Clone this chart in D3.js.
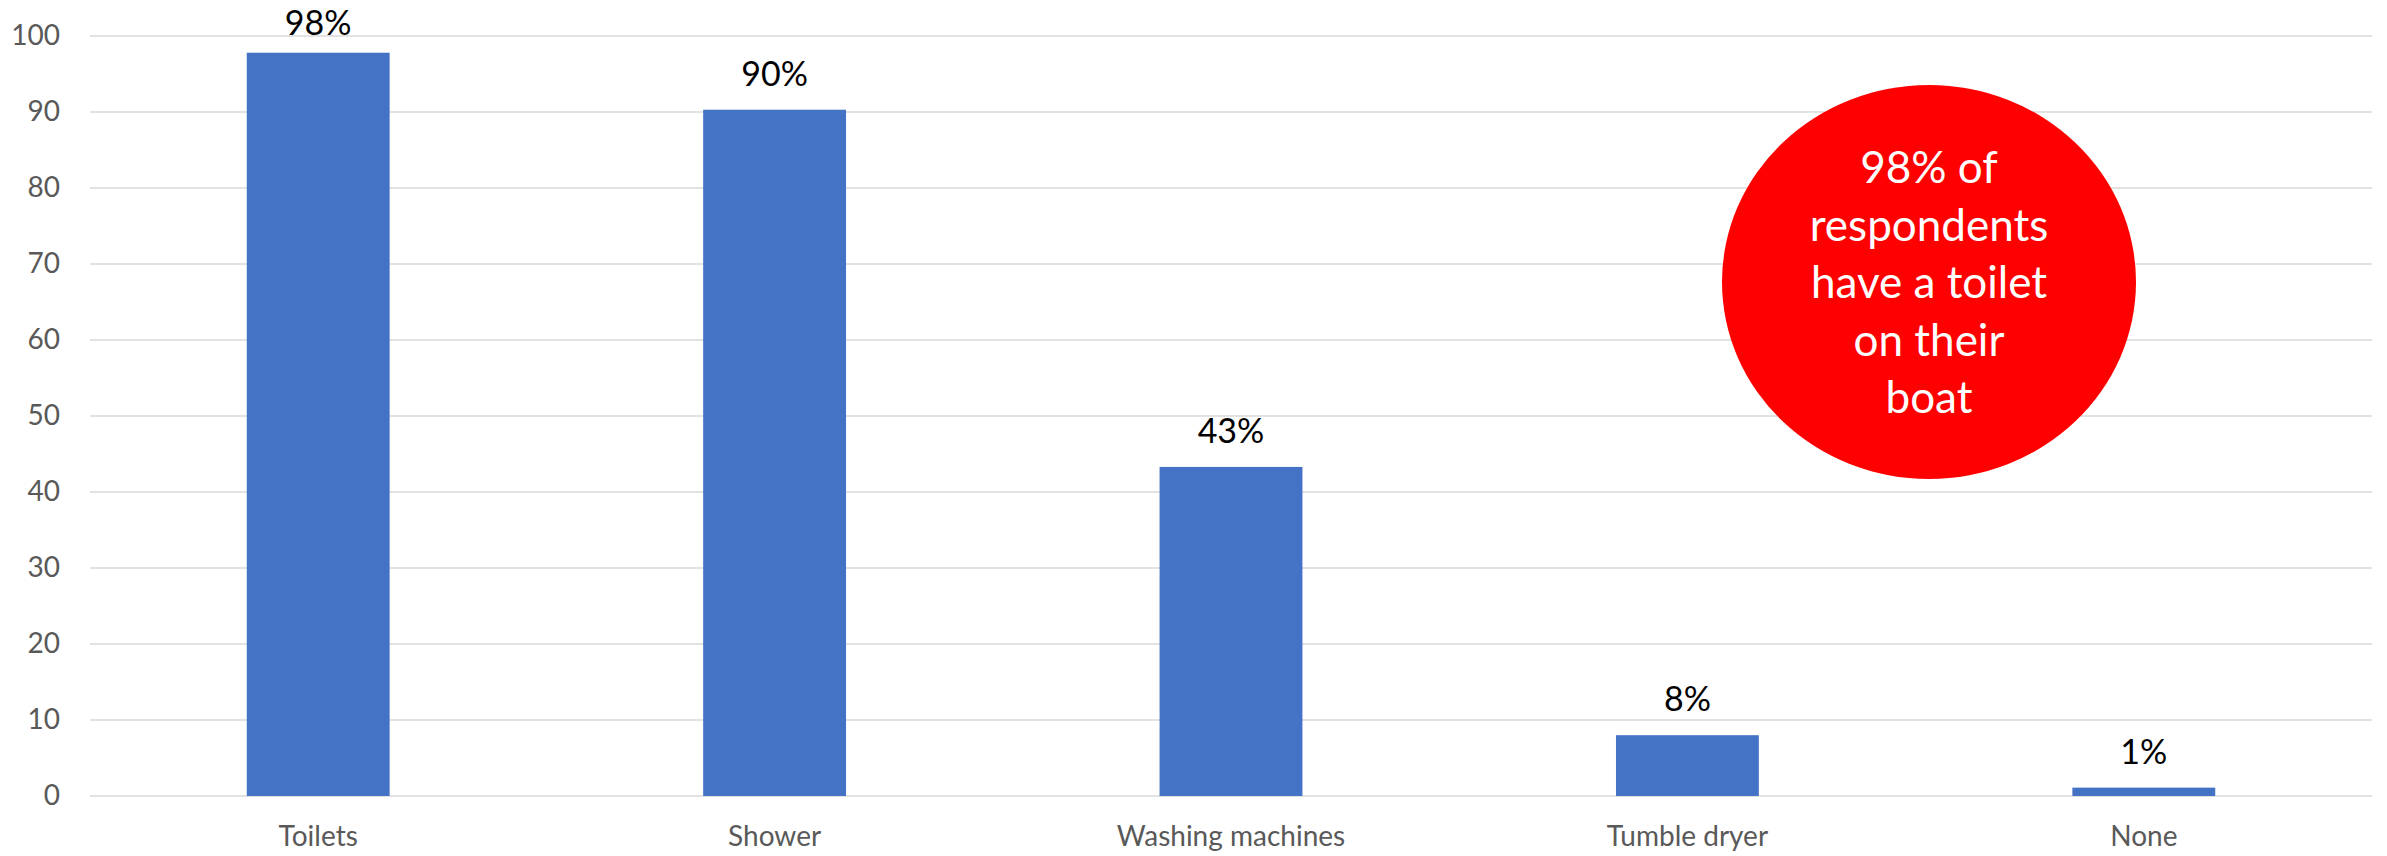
<!DOCTYPE html>
<html>
<head>
<meta charset="utf-8">
<script src="https://cdn.jsdelivr.net/npm/d3@7"></script>
<style>
  html, body { margin: 0; padding: 0; background: #ffffff; }
  svg { display: block; }
</style>
</head>
<body>
<svg id="chart" width="2387" height="856"></svg>
<script>
const categories = ["Toilets", "Shower", "Washing machines", "Tumble dryer", "None"];
const values = [97.8, 90.3, 43.3, 8.0, 1.1];
const yTicks = [0, 10, 20, 30, 40, 50, 60, 70, 80, 90, 100];
const calloutLines = ["98% of", "respondents", "have a toilet", "on their", "boat"];

const W = 2387, H = 856;
const margin = { left: 90, right: 15, top: 36, bottom: 60 };
const svg = d3.select("#chart");
const font = "Lato, 'Open Sans', sans-serif";

const x = d3.scaleBand().domain(categories).range([margin.left, W - margin.right]).paddingInner(0.687).paddingOuter(0.3435);
const y = d3.scaleLinear().domain([0, 100]).range([H - margin.bottom, margin.top]);

// gridlines
svg.append("g")
  .selectAll("line").data(yTicks).join("line")
  .attr("x1", margin.left).attr("x2", W - margin.right)
  .attr("y1", d => y(d)).attr("y2", d => y(d))
  .attr("stroke", "#d9d9d9").attr("stroke-width", 1.5);

// y axis
const yAxis = svg.append("g")
  .attr("transform", `translate(${margin.left},0)`)
  .call(d3.axisLeft(y).tickValues(yTicks).tickSize(0).tickPadding(30));
yAxis.select(".domain").remove();
yAxis.selectAll("text").attr("font-family", font).attr("font-size", 28).attr("fill", "#595959");

// bars
svg.append("g").selectAll("rect").data(values).join("rect")
  .attr("x", (d, i) => x(categories[i]))
  .attr("width", x.bandwidth())
  .attr("y", d => y(d))
  .attr("height", d => y(0) - y(d))
  .attr("fill", "#4472C4");

// data labels
const fmt = d3.format(".0f");
svg.append("g").selectAll("text").data(values).join("text")
  .attr("x", (d, i) => x(categories[i]) + x.bandwidth() / 2)
  .attr("y", d => Math.max(y(d) - 24, 35))
  .attr("text-anchor", "middle")
  .attr("font-family", font).attr("font-size", 34).attr("fill", "#000")
  .text(d => fmt(d) + "%");

// x axis
const xAxis = svg.append("g")
  .attr("transform", `translate(0,${y(0)})`)
  .call(d3.axisBottom(x).tickSize(0).tickPadding(30));
xAxis.select(".domain").remove();
xAxis.selectAll("text").attr("font-family", font).attr("font-size", 28).attr("fill", "#595959");

// callout ellipse
const cx = 1929, cy = 282;
svg.append("ellipse").attr("cx", cx).attr("cy", cy).attr("rx", 207).attr("ry", 197).attr("fill", "#ff0000");
svg.append("g").selectAll("text").data(calloutLines).join("text")
  .attr("x", cx)
  .attr("y", (d, i) => 183 + i * 57.5)
  .attr("text-anchor", "middle")
  .attr("font-family", font).attr("font-size", 44).attr("fill", "#ffffff")
  .text(d => d);
</script>
</body>
</html>
